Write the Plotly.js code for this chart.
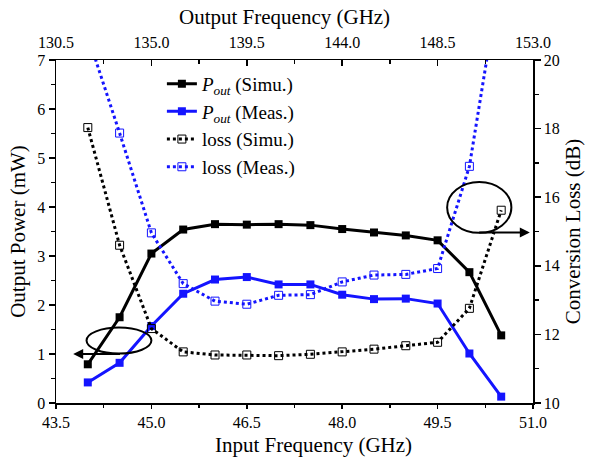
<!DOCTYPE html>
<html>
<head>
<meta charset="utf-8">
<script src="https://cdn.plot.ly/plotly-3.0.1.min.js"></script>
<style>
  html, body { margin: 0; padding: 0; background: #fff; }
  #chart { width: 590px; height: 461px; }
</style>
</head>
<body>
<div id="chart"></div>
<script>
// Input frequency sweep (GHz)
const inputFreq = [44.0, 44.5, 45.0, 45.5, 46.0, 46.5, 47.0, 47.5, 48.0, 48.5, 49.0, 49.5, 50.0, 50.5];
// The tripler output frequency is three times the input frequency
const outputFreq = inputFreq.map(f => 3 * f);

// Output power (mW)
const poutSimu = [0.79, 1.75, 3.05, 3.54, 3.65, 3.64, 3.65, 3.63, 3.55, 3.48, 3.42, 3.32, 2.67, 1.38];
const poutMeas = [0.42, 0.82, 1.57, 2.23, 2.52, 2.57, 2.42, 2.42, 2.21, 2.12, 2.13, 2.03, 1.01, 0.13];

// Conversion loss (dB)
const lossSimu = [18.03, 14.60, 12.17, 11.49, 11.40, 11.40, 11.38, 11.42, 11.49, 11.57, 11.67, 11.77, 12.76, 15.62];
const lossMeas = [20.7, 17.87, 14.96, 13.48, 12.97, 12.88, 13.14, 13.16, 13.53, 13.73, 13.75, 13.92, 16.9, 22.6];

// Series names
const seriesNames = [
  '<i>P</i><sub><i>out</i></sub> (Simu.)',
  '<i>P</i><sub><i>out</i></sub> (Meas.)',
  'loss (Simu.)',
  'loss (Meas.)'
];

// Axis titles
const titleInput = 'Input Frequency (GHz)';
const titleOutput = 'Output Frequency (GHz)';
const titlePower = 'Output Power (mW)';
const titleLoss = 'Conversion Loss (dB)';

const FONT = 'Liberation Serif';
const BLUE = '#1414ff';

const traces = [
  {
    x: inputFreq, y: poutSimu, name: seriesNames[0], type: 'scatter', mode: 'lines+markers',
    legendgroup: 'a',
    line: { color: '#000', width: 3 },
    marker: { symbol: 'square', size: 8, color: '#000' }
  },
  {
    x: inputFreq, y: poutMeas, name: seriesNames[1], type: 'scatter', mode: 'lines+markers',
    legendgroup: 'b',
    line: { color: BLUE, width: 3 },
    marker: { symbol: 'square', size: 8, color: BLUE }
  },
  {
    x: inputFreq, y: lossSimu, name: seriesNames[2], type: 'scatter', mode: 'lines+markers',
    yaxis: 'y2', legendgroup: 'c',
    line: { color: '#000', width: 3, dash: 'dot' },
    marker: { symbol: 'square-open', size: 8, color: '#000', line: { width: 1 } }
  },
  {
    x: inputFreq, y: lossMeas, name: seriesNames[3], type: 'scatter', mode: 'lines+markers',
    yaxis: 'y2', legendgroup: 'd',
    line: { color: BLUE, width: 3, dash: 'dot' },
    marker: { symbol: 'square-open', size: 8, color: BLUE, line: { width: 1 } }
  },
  // simulated power against output frequency: invisible, it carries the top axis
  {
    x: outputFreq, y: poutSimu, xaxis: 'x2', type: 'scatter', mode: 'lines',
    line: { color: 'rgba(0,0,0,0)', width: 0 }, showlegend: false, hoverinfo: 'skip'
  }
];

const axisCommon = {
  showline: true, linecolor: '#000', linewidth: 1.5,
  showgrid: false, zeroline: false,
  tickcolor: '#000', tickwidth: 1.5, ticklen: 6,
  tickfont: { family: FONT, size: 16, color: '#000' }
};

const titleFont = { family: FONT, size: 21, color: '#000' };

const layout = {
  width: 590, height: 461,
  margin: { l: 56, r: 57, t: 60, b: 58 },
  paper_bgcolor: '#fff', plot_bgcolor: '#fff',
  font: { family: FONT, color: '#000' },
  showlegend: true,
  legend: {
    x: 0.222, y: 0.986, xanchor: 'left', yanchor: 'top',
    bgcolor: 'rgba(0,0,0,0)', borderwidth: 0,
    font: { family: FONT, size: 19, color: '#000' },
    traceorder: 'grouped', tracegroupgap: 0, itemwidth: 30
  },
  xaxis: Object.assign({}, axisCommon, {
    range: [43.5, 51.0], tick0: 43.5, dtick: 1.5, tickformat: '.1f',
    ticks: 'outside', ticklen: 4,
    minor: { dtick: 0.75, ticks: 'outside', ticklen: 3, tickcolor: '#000', tickwidth: 1.5 }
  }),
  xaxis2: Object.assign({}, axisCommon, {
    overlaying: 'x', side: 'top', anchor: 'y',
    range: [130.5, 153.0], tick0: 130.5, dtick: 4.5, tickformat: '.1f',
    ticks: 'inside', ticklabelstandoff: 4,
    minor: { dtick: 2.25, ticks: 'inside', ticklen: 4, tickcolor: '#000', tickwidth: 1.5 }
  }),
  yaxis: Object.assign({}, axisCommon, {
    range: [0, 7], dtick: 1, ticks: 'outside',
    minor: { dtick: 0.5, ticks: 'outside', ticklen: 4, tickcolor: '#000', tickwidth: 1.5 },
    title: { text: titlePower, font: titleFont, standoff: 6 }
  }),
  yaxis2: Object.assign({}, axisCommon, {
    overlaying: 'y', side: 'right', anchor: 'x',
    range: [10, 20], dtick: 2, ticks: 'outside',
    minor: { dtick: 1, ticks: 'outside', ticklen: 4, tickcolor: '#000', tickwidth: 1.5 },
    title: { text: titleLoss, font: titleFont, standoff: 6 }
  }),
  shapes: [
    // ellipse marking the power curves (left axis)
    { type: 'circle', xref: 'x', yref: 'y', x0: 43.98, x1: 45.0, y0: 1.01, y1: 1.54,
      line: { color: '#000', width: 2 } },
    // ellipse marking the loss curves (right axis)
    { type: 'circle', xref: 'x', yref: 'y2', x0: 49.65, x1: 50.66, y0: 14.96, y1: 16.44,
      line: { color: '#000', width: 2 } }
  ],
  annotations: [
    // horizontal axis titles
    { text: titleInput, xref: 'paper', yref: 'paper', x: 0.54, y: -0.121,
      xanchor: 'center', yanchor: 'middle', showarrow: false, font: titleFont },
    { text: titleOutput, xref: 'paper', yref: 'paper', x: 0.48, y: 1.125,
      xanchor: 'center', yanchor: 'middle', showarrow: false, font: titleFont },
    // arrows pointing each ellipse to its axis
    { x: 43.77, y: 1.0, xref: 'x', yref: 'y', ax: 44.53, ay: 1.0, axref: 'x', ayref: 'y',
      text: '', showarrow: true, arrowhead: 2, arrowsize: 1, arrowwidth: 2, arrowcolor: '#000' },
    { x: 50.95, y: 14.97, xref: 'x', yref: 'y2', ax: 50.13, ay: 14.97, axref: 'x', ayref: 'y2',
      text: '', showarrow: true, arrowhead: 2, arrowsize: 1, arrowwidth: 2, arrowcolor: '#000' }
  ]
};

Plotly.newPlot('chart', traces, layout, { displayModeBar: false, staticPlot: true });
</script>
</body>
</html>
